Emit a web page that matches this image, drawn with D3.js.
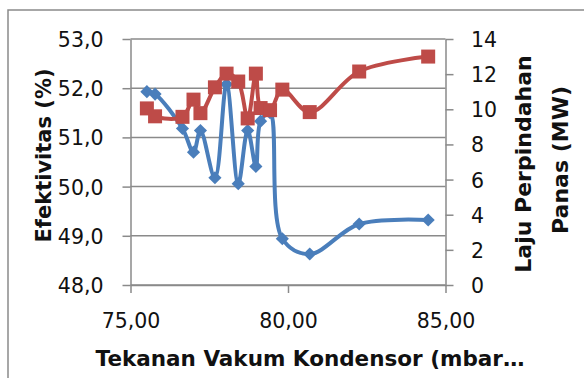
<!DOCTYPE html>
<html>
<head>
<meta charset="utf-8">
<script src="https://cdn.jsdelivr.net/npm/d3@7"></script>
<style>
  body { margin: 0; background: #fff; }
  svg { display: block; }
  .tick text { font-family: "DejaVu Sans", sans-serif; font-size: 20.5px; fill: #111; }
  .title { font-family: "DejaVu Sans", sans-serif; font-weight: bold; fill: #111; }
</style>
</head>
<body>
<svg id="chart" width="584" height="378"></svg>
<script>
(function(){
  // tekanan vakum kondensor (mbar)
  var tekanan = [75.52, 75.78, 76.65, 77.00, 77.22, 77.68, 78.05, 78.42, 78.72, 78.98, 79.13, 79.43, 79.82, 80.69, 82.26, 84.45];
  // efektivitas (%)
  var efektivitas = [51.93, 51.88, 51.18, 50.70, 51.14, 50.18, 52.08, 50.06, 51.14, 50.41, 51.33, 51.50, 48.94, 48.63, 49.24, 49.32];
  // laju perpindahan panas (MW)
  var laju = [10.05, 9.60, 9.57, 10.55, 9.78, 11.25, 12.03, 11.58, 9.48, 12.03, 10.07, 9.95, 11.12, 9.84, 12.15, 13.00];

  var xTicks = [75, 80, 85];
  var leftTicks = [48, 49, 50, 51, 52, 53];
  var rightTicks = [0, 2, 4, 6, 8, 10, 12, 14];

  var blue = '#4a7ebb', red = '#be4b48', grid = '#8a8a8a';
  var comma = function(f) { return function(d) { return d3.format(f)(d).replace('.', ','); }; };

  var svg = d3.select('#chart');

  // frame
  svg.append('rect')
    .attr('x', 8).attr('y', 10).attr('width', 620).attr('height', 420)
    .attr('fill', 'none').attr('stroke', grid).attr('stroke-width', 1.5);

  var x = d3.scaleLinear().domain([75, 85]).range([130.5, 445.5]);
  var yL = d3.scaleLinear().domain([48, 53]).range([285, 39]);
  var yR = d3.scaleLinear().domain([0, 14]).range([285, 39]);

  // gridlines
  svg.append('g')
    .selectAll('line')
    .data(leftTicks)
    .enter()
    .append('line')
    .attr('x1', x(75)).attr('x2', x(85))
    .attr('y1', function(d) { return yL(d); })
    .attr('y2', function(d) { return yL(d); })
    .attr('stroke', grid).attr('stroke-width', 1.5);

  function styleAxis(g) {
    g.selectAll('.domain').attr('stroke', grid).attr('stroke-width', 1.5);
    g.selectAll('.tick line').attr('stroke', grid).attr('stroke-width', 1.5);
  }

  svg.append('g')
    .attr('transform', 'translate(0,285)')
    .call(d3.axisBottom(x).tickValues(xTicks).tickFormat(comma('.2f')).tickSize(8).tickSizeOuter(0))
    .call(styleAxis)
    .selectAll('.tick text').attr('y', 43).attr('dy', 0);

  svg.append('g')
    .attr('transform', 'translate(130.5,0)')
    .call(d3.axisLeft(yL).tickValues(leftTicks).tickFormat(comma('.1f')).tickSize(8).tickSizeOuter(0))
    .call(styleAxis)
    .selectAll('.tick text').attr('x', -27).attr('dy', 7.5);

  svg.append('g')
    .attr('transform', 'translate(445.5,0)')
    .call(d3.axisRight(yR).tickValues(rightTicks).tickSize(8).tickSizeOuter(0))
    .call(styleAxis)
    .selectAll('.tick text').attr('x', 25.5).attr('dy', 7.5);

  svg.selectAll('.domain').attr('fill', 'none');

  // axis titles
  svg.append('text').attr('class', 'title')
    .attr('x', 310).attr('y', 366).attr('text-anchor', 'middle')
    .style('font-size', '21.5px')
    .text('Tekanan Vakum Kondensor (mbar…');

  svg.append('text').attr('class', 'title')
    .attr('transform', 'translate(50.5,155.5) rotate(-90)')
    .attr('text-anchor', 'middle')
    .style('font-size', '21px')
    .text('Efektivitas (%)');

  svg.append('text').attr('class', 'title')
    .attr('transform', 'translate(530.5,164) rotate(-90)')
    .attr('text-anchor', 'middle')
    .style('font-size', '22px')
    .text('Laju Perpindahan');

  svg.append('text').attr('class', 'title')
    .attr('transform', 'translate(567.5,160) rotate(-90)')
    .attr('text-anchor', 'middle')
    .style('font-size', '22px')
    .text('Panas (MW)');

  var idx = d3.range(tekanan.length);

  // efektivitas series
  var lineL = d3.line()
    .x(function(i) { return x(tekanan[i]); })
    .y(function(i) { return yL(efektivitas[i]); })
    .curve(d3.curveCatmullRom.alpha(0.5));

  svg.append('path')
    .datum(idx)
    .attr('d', lineL)
    .attr('fill', 'none').attr('stroke', blue).attr('stroke-width', 4)
    .attr('stroke-linejoin', 'round');

  svg.append('g')
    .selectAll('path')
    .data(idx)
    .enter()
    .append('path')
    .attr('d', d3.symbol(d3.symbolDiamond2, 110))
    .attr('transform', function(i) { return 'translate(' + x(tekanan[i]) + ',' + yL(efektivitas[i]) + ')'; })
    .attr('fill', blue);

  // laju series
  var lineR = d3.line()
    .x(function(i) { return x(tekanan[i]); })
    .y(function(i) { return yR(laju[i]); })
    .curve(d3.curveCatmullRom.alpha(0.5));

  svg.append('path')
    .datum(idx)
    .attr('d', lineR)
    .attr('fill', 'none').attr('stroke', red).attr('stroke-width', 4)
    .attr('stroke-linejoin', 'round');

  svg.append('g')
    .selectAll('rect')
    .data(idx)
    .enter()
    .append('rect')
    .attr('x', function(i) { return x(tekanan[i]) - 7; })
    .attr('y', function(i) { return yR(laju[i]) - 7; })
    .attr('width', 14).attr('height', 14)
    .attr('fill', red);
})();
</script>
</body>
</html>
